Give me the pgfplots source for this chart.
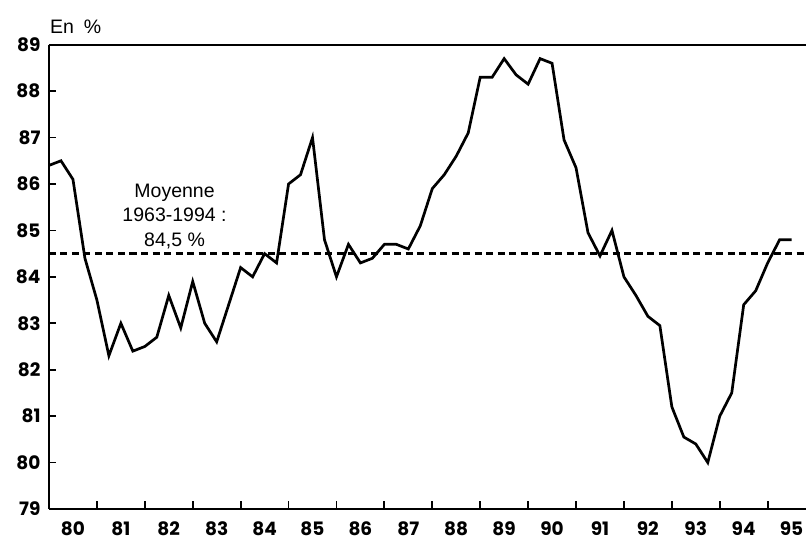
\documentclass[border=0pt]{standalone}
\usepackage{pgfplots}
\pgfplotsset{compat=1.18}
\usepackage{fontspec}
\setmainfont{Liberation Sans}
\newfontfamily\tickfont{Poppins}
\begin{document}
\begin{tikzpicture}
\begin{axis}[
  scale only axis,
  width=757pt, height=464.3pt,
  xmin=1980, xmax=1995.8,
  ymin=79, ymax=89,
  axis lines*=left,
  axis line style={line width=2.4pt},
  tick align=inside,
  xtick={1980.5,1981.5,...,1995.5},
  xticklabels={80,81,82,83,84,85,86,87,88,89,90,91,92,93,94,95},
  major x tick style={draw=none},
  minor xtick={1981,1982,...,1995},
  minor tick length=8pt,
  minor x tick style={line width=1.8pt, black},
  ytick={79,80,...,89},
  yticklabels={79,80,81,82,83,84,85,86,87,88,89},
  major tick length=7pt,
  y tick style={line width=1.8pt, black},
  tick label style={font=\tickfont\bfseries\fontsize{18.5}{18.5}\selectfont},
  xticklabel style={yshift=-11.5pt, inner sep=1pt},
  yticklabel style={xshift=-5pt},
  clip=false,
]
\addplot[black, line width=2.7pt, line join=miter] coordinates {
(1980.00,86.4) (1980.25,86.5) (1980.50,86.1) (1980.75,84.4)
(1981.00,83.5) (1981.25,82.3) (1981.50,83.0) (1981.75,82.4)
(1982.00,82.5) (1982.25,82.7) (1982.50,83.6) (1982.75,82.9)
(1983.00,83.9) (1983.25,83.0) (1983.50,82.6) (1983.75,83.4)
(1984.00,84.2) (1984.25,84.0) (1984.50,84.5) (1984.75,84.3)
(1985.00,86.0) (1985.25,86.2) (1985.50,87.0) (1985.75,84.8)
(1986.00,84.0) (1986.25,84.7) (1986.50,84.3) (1986.75,84.4)
(1987.00,84.7) (1987.25,84.7) (1987.50,84.6) (1987.75,85.1)
(1988.00,85.9) (1988.25,86.2) (1988.50,86.6) (1988.75,87.1)
(1989.00,88.3) (1989.25,88.3) (1989.50,88.7) (1989.75,88.35)
(1990.00,88.15) (1990.25,88.7) (1990.50,88.6) (1990.75,86.95)
(1991.00,86.35) (1991.25,84.95) (1991.50,84.45) (1991.75,85.0)
(1992.00,84.0) (1992.25,83.6) (1992.50,83.15) (1992.75,82.95)
(1993.00,81.2) (1993.25,80.55) (1993.50,80.4) (1993.75,80.0)
(1994.00,81.0) (1994.25,81.5) (1994.50,83.4) (1994.75,83.7)
(1995.00,84.3) (1995.25,84.8) (1995.50,84.8)
};
\addplot[black, line width=2.6pt, dash pattern=on 7pt off 4.5pt] coordinates {(1980,84.5) (1995.8,84.5)};
\draw[line width=2.2pt] (rel axis cs:0,1) -- (rel axis cs:1,1);
\node[align=center, font=\fontsize{19.5}{24.5}\selectfont] at (axis cs:1982.62,85.3) {Moyenne\\1963-1994 :\\84,5 \%};
\node[anchor=base west, font=\fontsize{19.5}{19.5}\selectfont, inner sep=0pt] at ([yshift=11.5pt,xshift=1pt]rel axis cs:0,1) {En\hspace{0.5em}\%};
\end{axis}
\pgfresetboundingbox
\path[use as bounding box] ([xshift=-49pt,yshift=-35pt]current axis.south west) rectangle ([yshift=44.7pt]current axis.north east);
\end{tikzpicture}
\end{document}
